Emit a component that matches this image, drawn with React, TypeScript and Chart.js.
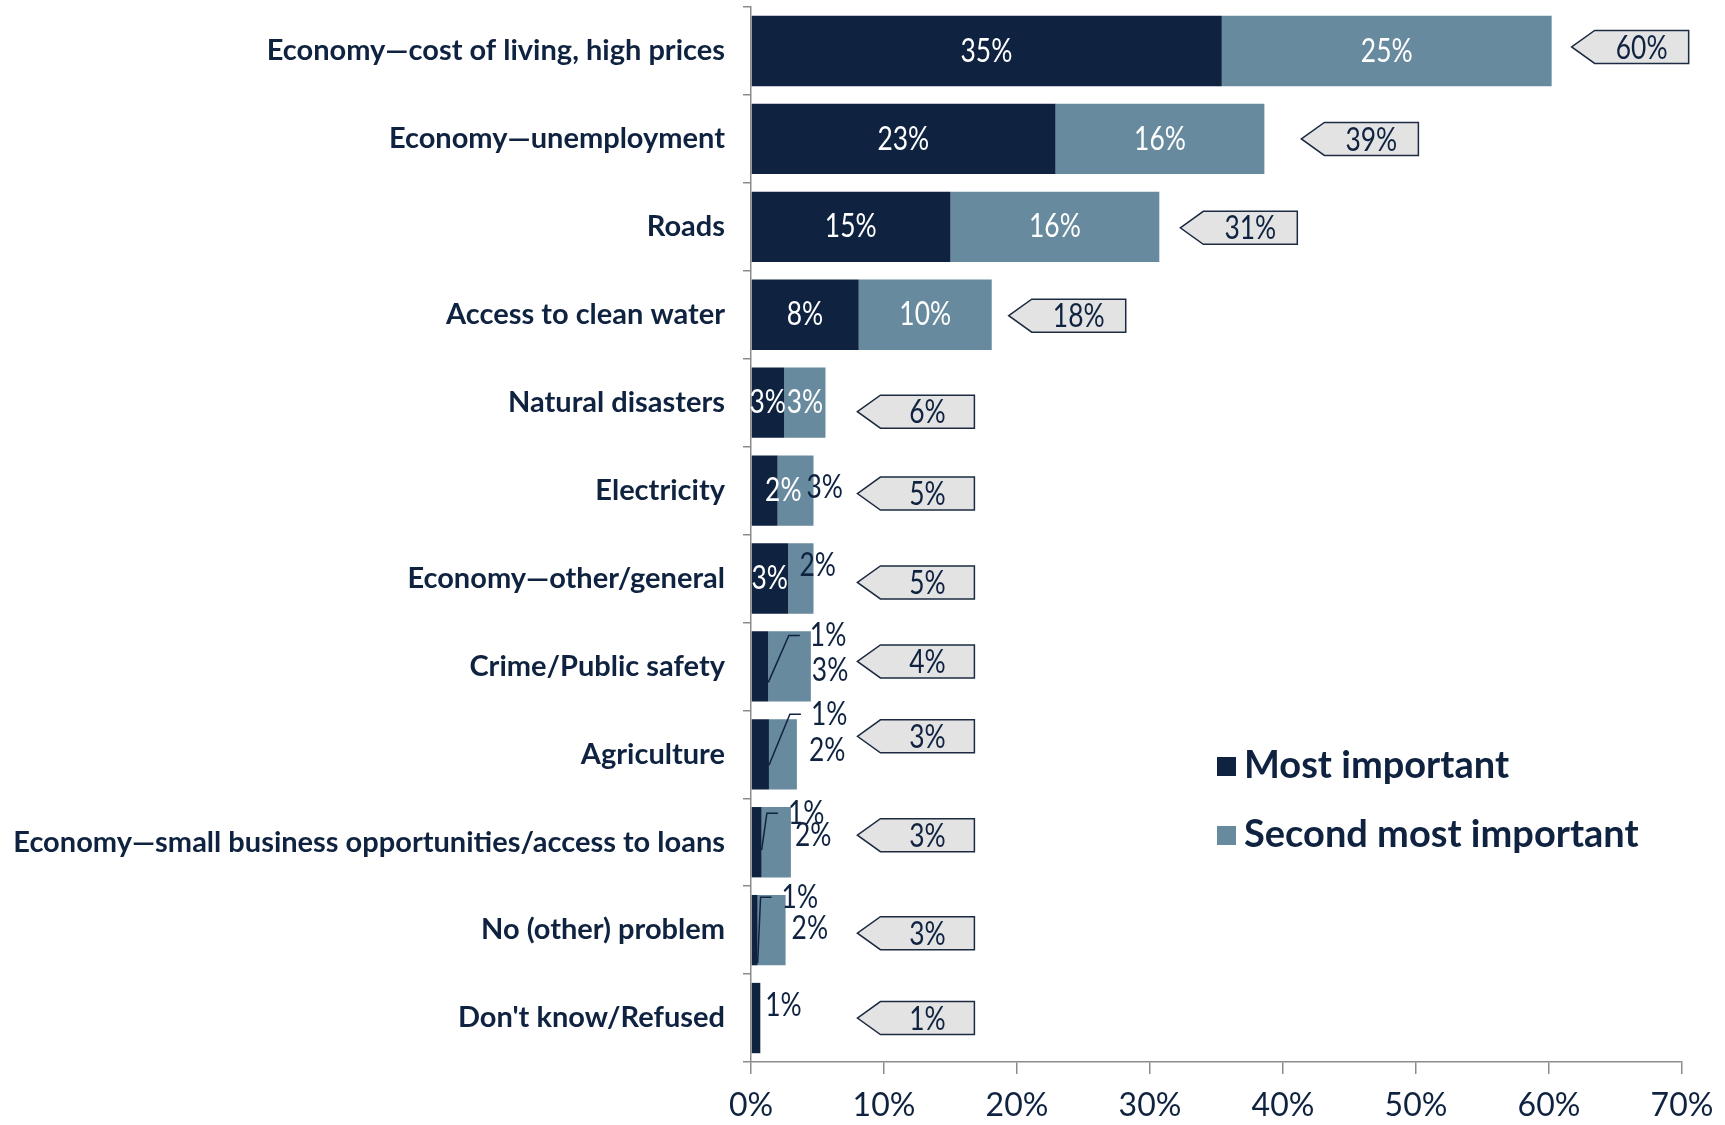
import React, { useEffect, useRef } from "react";
import { Chart, registerables } from "chart.js";

Chart.register(...registerables);

const categories = [
  "Economy—cost of living, high prices",
  "Economy—unemployment",
  "Roads",
  "Access to clean water",
  "Natural disasters",
  "Electricity",
  "Economy—other/general",
  "Crime/Public safety",
  "Agriculture",
  "Economy—small business opportunities/access to loans",
  "No (other) problem",
  "Don't know/Refused",
];
const mostImportant = [35.4, 22.9, 15.0, 8.1, 2.5, 2.0, 2.8, 1.3, 1.35, 0.8, 0.5, 0.7];
const secondImportant = [24.8, 15.7, 15.7, 10.0, 3.1, 2.7, 1.9, 3.2, 2.1, 2.2, 2.1, 0];
const mostLabels = ["35%", "23%", "15%", "8%", "3%", "2%", "3%", "1%", "1%", "1%", "1%", "1%"];
const secondLabels = ["25%", "16%", "16%", "10%", "3%", "3%", "2%", "3%", "2%", "2%", "2%", ""];
const totalLabels = ["60%", "39%", "31%", "18%", "6%", "5%", "5%", "4%", "3%", "3%", "3%", "1%"];
const seriesNames = ["Most important", "Second most important"];
const xTicks = [0, 10, 20, 30, 40, 50, 60, 70];

const DARK = "#0f2340";
const LIGHT = "#678a9e";
const FONT = "Lato, 'Noto Sans', sans-serif";

// label placement styles (per row): in = centered inside, out = right of bar, lead = with leader line
type LS = { mode: "in" | "out" | "lead"; dx?: number; dy?: number; sdy?: number };
const labelStyle: [LS, LS][] = [
  [{ mode: "in" }, { mode: "in" }],
  [{ mode: "in" }, { mode: "in" }],
  [{ mode: "in" }, { mode: "in" }],
  [{ mode: "in" }, { mode: "in" }],
  [{ mode: "in" }, { mode: "in" }],
  [{ mode: "in", dx: 19 }, { mode: "out", dx: -7, dy: -3 }],
  [{ mode: "in" }, { mode: "out", dx: -14, dy: -13 }],
  [{ mode: "lead", dx: -1, dy: -31, sdy: 16 }, { mode: "out", dx: 1, dy: 4 }],
  [{ mode: "lead", dx: 14, dy: -40, sdy: 11 }, { mode: "out", dx: 12, dy: -4 }],
  [{ mode: "lead", dx: -3, dy: -29, sdy: 8 }, { mode: "out", dx: 4, dy: -7 }],
  [{ mode: "lead", dx: -4, dy: -33, sdy: 33 }, { mode: "out", dx: 6, dy: -2 }],
  [{ mode: "out", dx: 5, dy: -13 }, { mode: "out" }],
];
const calloutGap = [20, 37, 21, 17, 20, 20, 20, 20, 20, 20, 20, 20];
const calloutDy = [-4, 0, 1, 1, 9, 3, 4, -5, -18, -7, 3, 0];

function drawText(ctx: CanvasRenderingContext2D, text: string, x: number, y: number, align: CanvasTextAlign, color: string, size: number, sx = 0.8, weight = "normal") {
  ctx.save();
  ctx.translate(x, y);
  ctx.scale(sx, 1);
  ctx.font = `${weight} ${size}px ${FONT}`;
  ctx.fillStyle = color;
  ctx.textAlign = align;
  ctx.textBaseline = "middle";
  ctx.fillText(text, 0, 0);
  ctx.restore();
}

const overlayPlugin = {
  id: "overlay",
  afterDatasetsDraw(chart: any) {
    const ctx: CanvasRenderingContext2D = chart.ctx;
    const xs = chart.scales.x;
    const m0 = chart.getDatasetMeta(0).data;
    const m1 = chart.getDatasetMeta(1).data;
    const FS = 33;
    categories.forEach((_, i) => {
      const b0 = m0[i];
      const b1 = m1[i];
      const cy = b0.y;
      const x0 = xs.getPixelForValue(0);
      const darkEnd = b0.x;
      const totEnd = secondImportant[i] > 0 ? b1.x : darkEnd;
      const labels = [mostLabels[i], secondLabels[i]];
      const segs = [
        [x0, darkEnd],
        [darkEnd, totEnd],
      ];
      labelStyle[i].forEach((st, s) => {
        const t = labels[s];
        if (!t) return;
        if (st.mode === "in") {
          const cx = (segs[s][0] + segs[s][1]) / 2 + (st.dx || 0);
          drawText(ctx, t, cx, cy + (st.dy || 0), "center", "#ffffff", FS);
        } else if (st.mode === "out") {
          drawText(ctx, t, totEnd + (st.dx || 0), cy + (st.dy || 0), "left", DARK, FS);
        } else {
          const lx = totEnd + (st.dx || 0);
          const ly = cy + (st.dy || 0);
          ctx.save();
          ctx.strokeStyle = DARK;
          ctx.lineWidth = 1.5;
          ctx.beginPath();
          ctx.moveTo(darkEnd, cy + (st.sdy || 0));
          ctx.lineTo(lx - 21, ly);
          ctx.lineTo(lx - 10, ly);
          ctx.stroke();
          ctx.restore();
          drawText(ctx, t, lx, ly, "left", DARK, FS);
        }
      });
      // callout
      const tipX = Math.max(totEnd + calloutGap[i], xs.getPixelForValue(8));
      const ccy = cy + calloutDy[i];
      const bh = 33;
      const aw = 23;
      const bw = 117;
      ctx.save();
      ctx.beginPath();
      ctx.moveTo(tipX, ccy);
      ctx.lineTo(tipX + aw, ccy - bh / 2);
      ctx.lineTo(tipX + bw, ccy - bh / 2);
      ctx.lineTo(tipX + bw, ccy + bh / 2);
      ctx.lineTo(tipX + aw, ccy + bh / 2);
      ctx.closePath();
      ctx.fillStyle = "#e3e3e3";
      ctx.fill();
      ctx.strokeStyle = "#1c2b42";
      ctx.lineWidth = 1.5;
      ctx.stroke();
      ctx.restore();
      drawText(ctx, totalLabels[i], tipX + (aw + bw) / 2, ccy + 1, "center", DARK, FS);
    });
    // legend
    const lx = 1217;
    const items = [
      { y: 766, c: DARK },
      { y: 835, c: LIGHT },
    ];
    items.forEach((it, k) => {
      ctx.fillStyle = it.c;
      ctx.fillRect(lx, it.y - 9, 19, 19);
      ctx.font = `bold 38px ${FONT}`;
      ctx.fillStyle = DARK;
      ctx.textAlign = "left";
      ctx.textBaseline = "middle";
      ctx.fillText(seriesNames[k], lx + 27, it.y);
    });
  },
};

export default function App() {
  const ref = useRef<HTMLCanvasElement | null>(null);
  useEffect(() => {
    if (!ref.current) return;
    const chart = new Chart(ref.current, {
      type: "bar",
      data: {
        labels: categories,
        datasets: [
          { label: seriesNames[0], data: mostImportant, backgroundColor: DARK, barPercentage: 1, categoryPercentage: 0.8 },
          { label: seriesNames[1], data: secondImportant, backgroundColor: LIGHT, barPercentage: 1, categoryPercentage: 0.8 },
        ],
      },
      options: {
        indexAxis: "y",
        responsive: false,
        animation: false,
        layout: { padding: { top: 7, right: 43, bottom: 0, left: 0 } },
        plugins: { legend: { display: false }, tooltip: { enabled: false } },
        scales: {
          x: {
            stacked: true,
            min: 0,
            max: 70,
            afterBuildTicks: (scale: any) => {
              scale.ticks = xTicks.map((v) => ({ value: v }));
            },
            afterFit: (scale: any) => {
              scale.height = 63;
              scale.paddingLeft = 0;
              scale.paddingRight = 0;
            },
            ticks: {
              callback: (v: any) => `${v}%`,
              color: DARK,
              font: { family: FONT, size: 32 },
              padding: 12,
              maxRotation: 0,
              autoSkip: false,
            },
            grid: { drawOnChartArea: false, tickLength: 12, color: "#8c8c8c", lineWidth: 1.5 },
            border: { color: "#8c8c8c", width: 1.5 },
          },
          y: {
            stacked: true,
            afterFit: (scale: any) => {
              scale.width = 751;
              scale.paddingTop = 0;
              scale.paddingBottom = 0;
            },
            ticks: {
              color: DARK,
              font: { family: FONT, size: 29, weight: "bold" },
              padding: 18,
              autoSkip: false,
            },
            grid: { drawOnChartArea: false, tickLength: 8, color: "#8c8c8c", lineWidth: 1.5, offset: true },
            border: { color: "#8c8c8c", width: 1.5 },
          },
        },
      },
      plugins: [overlayPlugin],
    } as any);
    return () => chart.destroy();
  }, []);
  return (
    <div style={{ position: "absolute", left: 0, top: 0, width: 1725, height: 1125, background: "#fff" }}>
      <canvas ref={ref} width={1725} height={1125} />
    </div>
  );
}
